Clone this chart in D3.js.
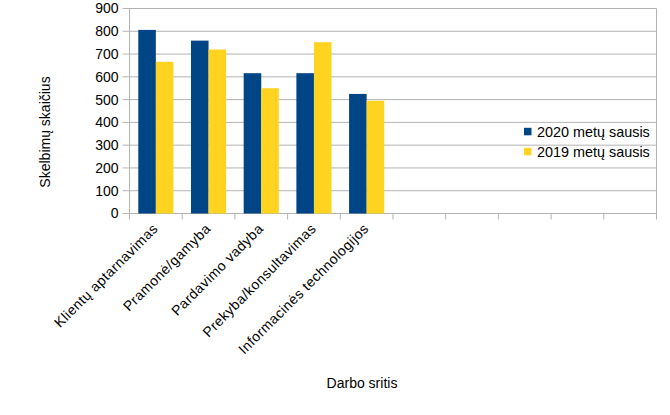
<!DOCTYPE html>
<html><head><meta charset="utf-8">
<script src="https://cdn.jsdelivr.net/npm/d3@7"></script>
<style>body{margin:0;background:#fff}svg{display:block}text{font-family:"Liberation Sans",Arial,sans-serif;fill:#000}</style>
</head><body><svg id="c" width="670" height="415"></svg>
<script>
const categories = ["Klientų aptarnavimas","Pramonė/gamyba","Pardavimo vadyba","Prekyba/konsultavimas","Informacinės technologijos","","","","",""];
const series2020 = [806, 759, 616, 616, 525];
const series2019 = [666, 720, 550, 752, 495];
const seriesNames = ["2020 metų sausis","2019 metų sausis"];
const yTicks = [0,100,200,300,400,500,600,700,800,900];
const colors = ["#004586","#ffd320"];

const svg = d3.select("#c");
const L = 129.5, R = 656.5, T = 8.5, B = 213.5;
const ids = categories.map((c,i)=>i);
const x = d3.scaleBand().domain(ids).range([L,R]).padding(0);
const bw = x.bandwidth();
const xs = d3.scaleBand().domain([0,1]).range([bw/6, bw*5/6]).padding(0);
const y = d3.scaleLinear().domain([0,900]).range([B,T]);

// gridlines
svg.append("g").selectAll("line").data(yTicks).join("line")
  .attr("x1",L-7).attr("x2",R).attr("y1",d=>y(d)).attr("y2",d=>y(d))
  .attr("stroke","#b3b3b3").attr("stroke-width",1);
// left & right border
svg.append("line").attr("x1",L).attr("x2",L).attr("y1",T).attr("y2",B+6).attr("stroke","#b3b3b3");
svg.append("line").attr("x1",R).attr("x2",R).attr("y1",T).attr("y2",B+6).attr("stroke","#b3b3b3");
// x ticks at category boundaries
svg.append("g").selectAll("line").data(ids.slice(1)).join("line")
  .attr("x1",d=>x(d)).attr("x2",d=>x(d)).attr("y1",B).attr("y2",B+6).attr("stroke","#b3b3b3");

// bars
const data = [series2020, series2019];
data.forEach((vals,si)=>{
  svg.append("g").selectAll("rect").data(vals).join("rect")
    .attr("x",(d,i)=>x(i)+xs(si)).attr("width",xs.bandwidth())
    .attr("y",d=>y(d)).attr("height",d=>B-y(d)).attr("fill",colors[si]);
});

// y tick labels
svg.append("g").selectAll("text").data(yTicks).join("text")
  .attr("x",L-11).attr("y",d=>y(d)).attr("dy","0.35em").attr("text-anchor","end")
  .style("font-size","14px").text(d=>d);

// x labels
svg.append("g").selectAll("text").data(categories).join("text")
  .attr("transform",(d,i)=>`translate(${x(i)+bw/2+3},${B+16}) rotate(-45)`)
  .attr("text-anchor","end").style("font-size","14px").style("letter-spacing","0.45px").text(d=>d);

// axis titles
svg.append("text").attr("x",362).attr("y",388).attr("text-anchor","middle").style("font-size","14px").text("Darbo sritis");
svg.append("text").attr("transform","translate(50,132) rotate(-90)").attr("text-anchor","middle").style("font-size","14px").text("Skelbimų skaičius");

// legend
seriesNames.forEach((n,i)=>{
  const cy = 131.5 + i*20;
  svg.append("rect").attr("x",524).attr("y",cy-3.7).attr("width",7.5).attr("height",7.5).attr("fill",colors[i]);
  svg.append("text").attr("x",537).attr("y",cy).attr("dy","0.35em").style("font-size","14.4px").text(n);
});
</script></body></html>
